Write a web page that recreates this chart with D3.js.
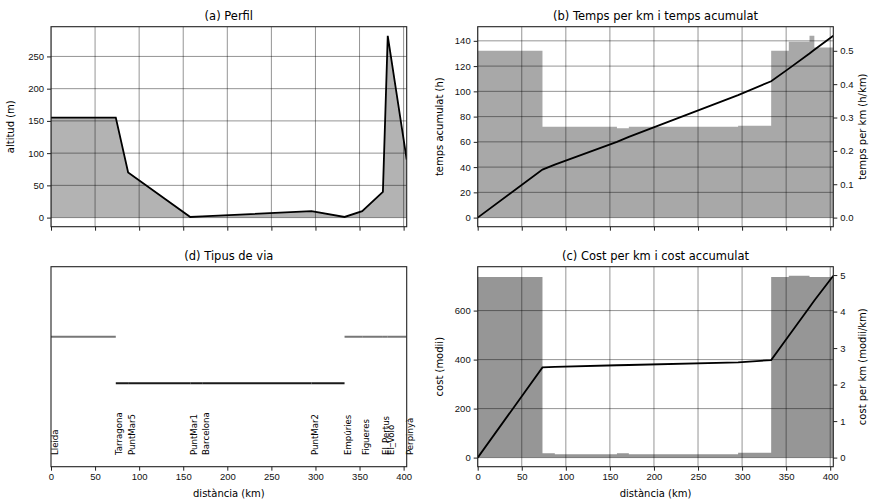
<!DOCTYPE html>
<html>
<head>
<meta charset="utf-8">
<script src="https://cdn.jsdelivr.net/npm/d3@7"></script>
<style>
body{margin:0;background:#fff;}
svg{font-family:"DejaVu Sans",sans-serif;}
.tick text{font-size:9.5px;fill:#111;}
.tick line{stroke:#222;}
</style>
</head>
<body>
<div id="chart"></div>
<script>
// punts de la ruta
var places = ["Lleida","Tarragona","PuntMar5","PuntMar1","Barcelona","PuntMar2","Empúries","Figueres","El_Pertus","El_Voló","Perpinyà"];
var km = [0, 73.5, 87.5, 158, 171.5, 295.5, 333, 353, 376.5, 382, 403.5];
var altitude = [155, 155, 70, 1, 2, 10, 1, 10, 40, 282, 90];
// per tram (entre punts)
var roadType = ["terra","mar","mar","mar","mar","mar","terra","terra","terra","terra"];
var timePerKm = [0.50, 0.272, 0.272, 0.268, 0.272, 0.275, 0.50, 0.527, 0.545, 0.51];
var costPerKm = [4.95, 0.12, 0.09, 0.12, 0.09, 0.13, 4.95, 4.98, 4.95, 4.95];
// acumulats a cada punt
var timeCum = [0, 38, 42, 60, 64, 97, 108, 118, 130, 133, 144];
var costCum = [0, 368, 370, 377, 378, 389, 398, 497, 614, 641, 742];

var xTicks = [0,50,100,150,200,250,300,350,400];
var altTicks = [0,50,100,150,200,250];
var timeTicks = [0,20,40,60,80,100,120,140];
var tpkTicks = [0,0.1,0.2,0.3,0.4,0.5];
var costTicks = [0,200,400,600];
var cpkTicks = [0,1,2,3,4,5];

var W=874,H=503;
var svg = d3.select("#chart").append("svg").attr("width",W).attr("height",H);
svg.append("rect").attr("width",W).attr("height",H).attr("fill","#fff");

var colL=[51,406.7], colR=[477.7,833.3], rowT=[26.7,226.7], rowB=[266.7,466.7];
var kmMax = km[km.length-1];

function pad(lo,hi){ var m=(hi-lo)*0.05; return [lo-m,hi+m]; }

var segs = d3.range(roadType.length).map(function(i){
    return {i:i, a:km[i], b:km[i+1], type:roadType[i], t:timePerKm[i], c:costPerKm[i]};
});
// escales (steps) per les barres: cada tram + punt final
var steps = segs.map(function(d){ return {km:d.a, t:d.t, c:d.c}; });
steps.push({km:kmMax, t:timePerKm[timePerKm.length-1], c:costPerKm[costPerKm.length-1]});
var pts = km.map(function(d,i){ return {km:d, alt:altitude[i], t:timeCum[i], c:costCum[i], name:places[i]}; });

var clipN=0;
function panel(col,row,title){
    var x = d3.scaleLinear().domain([0,kmMax]).range(col);
    var g = svg.append("g");
    var id = "clip"+(clipN++);
    svg.append("clipPath").attr("id",id).append("rect")
        .attr("x",col[0]).attr("y",row[0]).attr("width",col[1]-col[0]).attr("height",row[1]-row[0]);
    var body = g.append("g").attr("clip-path","url(#"+id+")");
    g.append("text").attr("x",(col[0]+col[1])/2).attr("y",row[0]-6.5)
        .attr("text-anchor","middle").style("font-size","11.5px").text(title);
    return {x:x,g:g,body:body,col:col,row:row};
}

function grid(p,yScale,yTicks){
    var gg = p.body.append("g").attr("stroke","#000").attr("stroke-opacity",0.42).attr("stroke-width",1);
    gg.selectAll("line.v").data(xTicks).enter().append("line")
        .attr("x1",function(d){return p.x(d);}).attr("x2",function(d){return p.x(d);})
        .attr("y1",p.row[0]).attr("y2",p.row[1]);
    gg.selectAll("line.h").data(yTicks).enter().append("line")
        .attr("y1",function(d){return yScale(d);}).attr("y2",function(d){return yScale(d);})
        .attr("x1",p.col[0]).attr("x2",p.col[1]);
}

function frame(p,labels){
    var xa = d3.axisBottom(p.x).tickValues(xTicks).tickSize(4).tickPadding(3);
    if(!labels) xa.tickFormat("");
    p.g.append("g").attr("transform","translate(0,"+p.row[1]+")").call(xa)
        .call(function(s){s.select(".domain").remove();});
    p.g.append("rect").attr("x",p.col[0]).attr("y",p.row[0])
        .attr("width",p.col[1]-p.col[0]).attr("height",p.row[1]-p.row[0])
        .attr("fill","none").attr("stroke","#222").attr("stroke-width",1.1);
    if(labels){
        p.g.append("text").attr("x",(p.col[0]+p.col[1])/2).attr("y",p.row[1]+30)
            .attr("text-anchor","middle").style("font-size","10px").text("distància (km)");
    }
}

function leftAxis(p,y,ticks,label,lx){
    p.g.append("g").attr("transform","translate("+p.col[0]+",0)")
        .call(d3.axisLeft(y).tickValues(ticks).tickSize(4).tickPadding(3))
        .call(function(s){s.select(".domain").remove();});
    p.g.append("text").attr("transform","translate("+lx+","+((p.row[0]+p.row[1])/2)+") rotate(-90)")
        .attr("text-anchor","middle").style("font-size","10px").text(label);
}
function rightAxis(p,y,ticks,fmt,label,lx){
    p.g.append("g").attr("transform","translate("+p.col[1]+",0)")
        .call(d3.axisRight(y).tickValues(ticks).tickSize(4).tickPadding(3).tickFormat(fmt))
        .call(function(s){s.select(".domain").remove();});
    p.g.append("text").attr("transform","translate("+lx+","+((p.row[0]+p.row[1])/2)+") rotate(-90)")
        .attr("text-anchor","middle").style("font-size","10px").text(label);
}

// (a) Perfil
var pa = panel(colL,rowT,"(a) Perfil");
var ya = d3.scaleLinear().domain(pad(0,d3.max(altitude))).range([rowT[1],rowT[0]]);
pa.body.append("path").datum(pts)
    .attr("d",d3.area().x(function(d){return pa.x(d.km);}).y0(ya(0)).y1(function(d){return ya(d.alt);}))
    .attr("fill","#b3b3b3");
grid(pa,ya,altTicks);
pa.body.append("path").datum(pts)
    .attr("d",d3.line().x(function(d){return pa.x(d.km);}).y(function(d){return ya(d.alt);}))
    .attr("fill","none").attr("stroke","#000").attr("stroke-width",1.8);
frame(pa,false);
leftAxis(pa,ya,altTicks,"altitud (m)",14);

// (b) Temps
var pb = panel(colR,rowT,"(b) Temps per km i temps acumulat");
var yb = d3.scaleLinear().domain(pad(0,d3.max(timeCum))).range([rowT[1],rowT[0]]);
var yb2 = d3.scaleLinear().domain(pad(0,d3.max(timePerKm))).range([rowT[1],rowT[0]]);
pb.body.append("path").datum(steps)
    .attr("d",d3.area().curve(d3.curveStepAfter).x(function(d){return pb.x(d.km);})
        .y0(yb2(0)).y1(function(d){return yb2(d.t);}))
    .attr("fill","#a8a8a8");
grid(pb,yb,timeTicks);
pb.body.append("path").datum(pts)
    .attr("d",d3.line().x(function(d){return pb.x(d.km);}).y(function(d){return yb(d.t);}))
    .attr("fill","none").attr("stroke","#000").attr("stroke-width",1.8);
frame(pb,false);
leftAxis(pb,yb,timeTicks,"temps acumulat (h)",443);
rightAxis(pb,yb2,tpkTicks,d3.format(".1f"),"temps per km (h/km)",866);

// (d) Tipus de via
var pd = panel(colL,rowB,"(d) Tipus de via");
var yd = d3.scaleLinear().domain([-1.79,2.5]).range([rowB[1],rowB[0]]);
var typeY = {terra:1, mar:0};
var typeColor = {terra:"#777", mar:"#1a1a1a"};
pd.body.selectAll("line.via").data(segs).enter().append("line")
    .attr("x1",function(d){return pd.x(d.a);}).attr("x2",function(d){return pd.x(d.b);})
    .attr("y1",function(d){return yd(typeY[d.type]);}).attr("y2",function(d){return yd(typeY[d.type]);})
    .attr("stroke",function(d){return typeColor[d.type];}).attr("stroke-width",2);
pd.g.selectAll("text.place").data(pts).enter().append("text")
    .attr("transform",function(d){return "translate("+pd.x(d.km)+","+yd(-1.54)+") rotate(-90)";})
    .attr("dy","0.76em").style("font-size","8.6px").text(function(d){return d.name;});
frame(pd,true);

// (c) Cost
var pc = panel(colR,rowB,"(c) Cost per km i cost accumulat");
var yc = d3.scaleLinear().domain(pad(0,d3.max(costCum))).range([rowB[1],rowB[0]]);
var yc2 = d3.scaleLinear().domain(pad(0,d3.max(costPerKm))).range([rowB[1],rowB[0]]);
pc.body.append("path").datum(steps)
    .attr("d",d3.area().curve(d3.curveStepAfter).x(function(d){return pc.x(d.km);})
        .y0(yc2(0)).y1(function(d){return yc2(d.c);}))
    .attr("fill","#969696");
grid(pc,yc,costTicks);
pc.body.append("path").datum(pts)
    .attr("d",d3.line().x(function(d){return pc.x(d.km);}).y(function(d){return yc(d.c);}))
    .attr("fill","none").attr("stroke","#000").attr("stroke-width",1.8);
frame(pc,true);
leftAxis(pc,yc,costTicks,"cost (modii)",443);
rightAxis(pc,yc2,cpkTicks,d3.format("d"),"cost per km (modii/km)",866);
</script>
</body>
</html>
